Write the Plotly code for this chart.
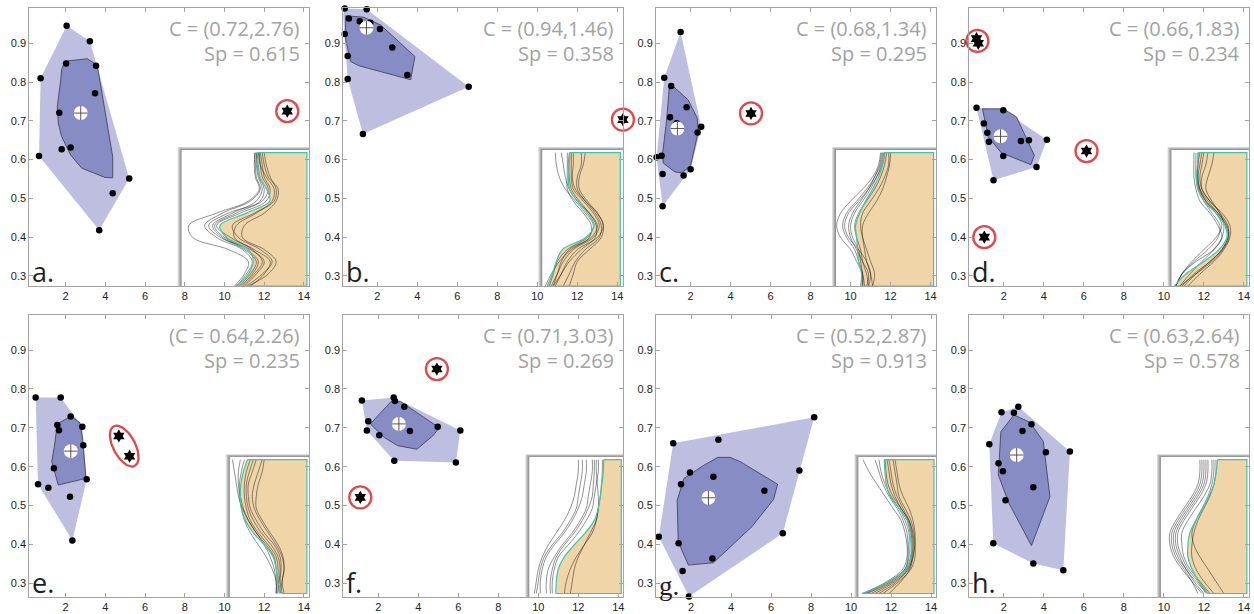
import numpy as np
import plotly.graph_objects as go

# ---------------------------------------------------------------- data
panel_letters = ["a", "b", "c", "d", "e", "f", "g", "h"]

x_ticks = [2, 4, 6, 8, 10, 12, 14]
y_ticks = [0.3, 0.4, 0.5, 0.6, 0.7, 0.8, 0.9]

# summary numbers printed on each panel: C = (y, x) of the centre, Sp = spread
center_y = [0.72, 0.94, 0.68, 0.66, 0.64, 0.71, 0.52, 0.63]
center_x = [2.76, 1.46, 1.34, 1.83, 2.26, 3.03, 2.87, 2.64]
spread = [0.615, 0.358, 0.295, 0.234, 0.235, 0.269, 0.913, 0.578]
c_templates = ["C = ({:.2f},{:.2f})"] * 4 + ["(C = {:.2f},{:.2f})"] + ["C = ({:.2f},{:.2f})"] * 3

# ---- panel a
pts_x_a = [2.05, 3.22, 0.74, 2.02, 3.53, 3.48, 1.68, 1.80, 2.25, 0.66, 5.20, 4.37, 3.69]
pts_y_a = [0.945, 0.905, 0.810, 0.848, 0.842, 0.771, 0.721, 0.627, 0.631, 0.609, 0.551, 0.513, 0.418]
out_x_a = [13.16]
out_y_a = [0.725]
out_g_a = [0]
bag_x_a = [1.80, 1.97, 3.09, 3.59, 4.37, 4.37, 3.98, 2.81, 2.25, 1.80, 1.63, 1.58, 1.75]
bag_y_a = [0.833, 0.854, 0.860, 0.844, 0.608, 0.553, 0.554, 0.578, 0.612, 0.659, 0.694, 0.737, 0.805]

# ---- panel b
pts_x_b = [0.37, 1.47, 0.28, 0.58, 1.12, 1.65, 2.13, 0.37, 2.75, 0.52, 3.50, 0.52, 6.57, 1.28]
pts_y_b = [0.990, 0.988, 0.973, 0.964, 0.957, 0.953, 0.937, 0.924, 0.889, 0.867, 0.818, 0.808, 0.788, 0.666]
out_x_b = [14.28]
out_y_b = [0.703]
out_g_b = [0]
bag_x_b = [0.42, 1.33, 2.17, 3.88, 3.67, 1.08, 0.67, 0.42]
bag_y_b = [0.971, 0.967, 0.947, 0.866, 0.806, 0.842, 0.853, 0.909]

# ---- panel c
pts_x_c = [1.50, 0.68, 1.03, 1.80, 0.97, 1.30, 2.53, 2.35, 0.30, 0.55, 0.60, 2.00, 1.65, 0.60]
pts_y_c = [0.929, 0.811, 0.790, 0.735, 0.709, 0.694, 0.685, 0.670, 0.606, 0.610, 0.563, 0.575, 0.559, 0.480]
out_x_c = [5.02]
out_y_c = [0.719]
out_g_c = [0]
bag_x_c = [0.93, 1.17, 1.88, 2.33, 2.38, 2.00, 1.55, 1.22, 0.63, 0.60, 0.80]
bag_y_c = [0.784, 0.787, 0.754, 0.707, 0.672, 0.584, 0.566, 0.568, 0.591, 0.616, 0.702]

# ---- panel d
pts_x_d = [0.63, 1.00, 1.17, 1.25, 1.97, 1.97, 2.85, 3.25, 4.15, 3.63, 1.48]
pts_y_d = [0.734, 0.693, 0.669, 0.646, 0.727, 0.609, 0.648, 0.650, 0.651, 0.581, 0.547]
out_x_d = [0.63, 0.72, 6.13, 1.02]
out_y_d = [0.912, 0.900, 0.622, 0.400]
out_g_d = [0, 0, 1, 2]
bag_x_d = [0.93, 1.97, 2.63, 3.52, 3.35, 1.88, 1.22]
bag_y_d = [0.731, 0.731, 0.710, 0.611, 0.587, 0.617, 0.658]

# ---- panel e
pts_x_e = [0.49, 1.75, 2.25, 1.58, 1.66, 2.84, 2.89, 1.41, 3.06, 0.61, 1.13, 2.22, 2.34]
pts_y_e = [0.778, 0.778, 0.729, 0.707, 0.694, 0.703, 0.655, 0.596, 0.568, 0.555, 0.546, 0.523, 0.410]
out_x_e = [4.68, 5.22]
out_y_e = [0.679, 0.627]
out_g_e = [0, 0]
bag_x_e = [1.58, 2.27, 2.72, 2.86, 3.02, 1.63, 1.30, 1.43]
bag_y_e = [0.710, 0.730, 0.713, 0.669, 0.570, 0.553, 0.613, 0.651]

# ---- panel f
pts_x_f = [1.18, 2.77, 2.83, 3.30, 1.50, 1.43, 2.05, 3.58, 4.97, 6.10, 2.80, 5.88]
pts_y_f = [0.770, 0.778, 0.769, 0.754, 0.717, 0.693, 0.681, 0.692, 0.703, 0.693, 0.615, 0.611]
out_x_f = [4.93, 1.10]
out_y_f = [0.851, 0.521]
out_g_f = [0, 1]
bag_x_f = [1.60, 2.63, 3.13, 5.05, 4.72, 3.93, 2.97, 2.30]
bag_y_f = [0.710, 0.767, 0.767, 0.700, 0.679, 0.645, 0.654, 0.675]

# ---- panel g
pts_x_g = [1.11, 3.37, 8.16, 1.95, 3.12, 1.50, 5.67, 7.42, 0.39, 1.38, 6.59, 3.07, 1.58, 1.90]
pts_y_g = [0.660, 0.669, 0.727, 0.585, 0.574, 0.555, 0.538, 0.590, 0.420, 0.403, 0.429, 0.364, 0.332, 0.266]
out_x_g = []
out_y_g = []
out_g_g = []
bag_x_g = [1.65, 2.62, 3.34, 3.96, 4.46, 6.33, 6.13, 5.05, 3.12, 1.87, 1.36, 1.31]
bag_y_g = [0.570, 0.603, 0.624, 0.624, 0.613, 0.555, 0.516, 0.446, 0.353, 0.347, 0.407, 0.514]

# ---- panel h
pts_x_h = [2.72, 1.88, 2.50, 3.38, 2.93, 1.27, 4.10, 5.30, 1.73, 1.95, 3.47, 2.08, 1.47, 3.47, 4.97]
pts_y_h = [0.754, 0.740, 0.739, 0.709, 0.692, 0.658, 0.637, 0.639, 0.609, 0.588, 0.547, 0.514, 0.403, 0.351, 0.334]
out_x_h = []
out_y_h = []
out_g_h = []
bag_x_h = [2.50, 3.30, 3.97, 4.30, 3.38, 2.25, 1.72, 1.85]
bag_y_h = [0.733, 0.714, 0.665, 0.523, 0.397, 0.506, 0.579, 0.690]

# ---- inset profiles: x position of each profile at these depth levels
prof_levels = [0.618, 0.587, 0.555, 0.524, 0.493, 0.462, 0.430, 0.399, 0.368, 0.337, 0.305, 0.274]

teal_a = [11.65, 11.70, 11.78, 12.12, 12.28, 11.10, 9.77, 10.10, 11.20, 11.45, 11.20, 10.57]
curves_a = [
    [11.60, 11.60, 11.70, 11.90, 11.60, 10.40, 9.40, 9.90, 11.00, 11.60, 11.30, 10.70],
    [11.80, 11.90, 12.00, 12.30, 12.10, 10.80, 9.60, 10.30, 11.40, 11.90, 11.50, 10.90],
    [11.50, 11.55, 11.60, 11.80, 11.30, 9.90, 9.00, 9.60, 10.90, 11.40, 11.10, 10.60],
    [12.00, 12.10, 12.30, 12.60, 12.50, 11.50, 10.40, 10.70, 11.80, 12.40, 11.90, 11.10],
    [11.70, 11.80, 12.10, 12.50, 12.40, 11.60, 10.60, 10.50, 11.50, 12.30, 12.00, 11.30],
    [11.55, 11.50, 11.55, 11.75, 11.20, 9.60, 8.20, 8.40, 10.20, 11.20, 11.00, 10.50],
    [11.90, 12.00, 12.20, 12.70, 12.60, 12.00, 11.00, 10.90, 12.00, 12.60, 12.20, 11.20],
    [11.60, 11.65, 11.75, 12.00, 11.80, 10.60, 9.50, 10.00, 11.10, 11.70, 11.40, 10.80],
    [11.75, 11.80, 11.90, 12.20, 11.90, 10.20, 9.20, 9.80, 11.30, 12.00, 11.60, 11.00],
]
teal_b = [11.63, 11.60, 11.57, 11.60, 12.00, 12.50, 12.85, 12.42, 11.25, 10.95, 10.75, 10.50]
curves_b = [
    [10.90, 10.95, 11.10, 11.40, 11.90, 12.40, 12.80, 12.50, 11.50, 11.00, 10.80, 10.60],
    [11.70, 11.70, 11.70, 11.80, 12.30, 12.80, 13.10, 12.80, 11.80, 11.30, 11.00, 10.70],
    [11.80, 11.80, 11.75, 11.90, 12.40, 13.00, 13.30, 13.00, 12.00, 11.50, 11.20, 10.90],
    [12.20, 12.20, 12.00, 12.00, 12.40, 12.90, 13.20, 13.10, 12.40, 11.90, 11.60, 11.30],
    [11.50, 11.50, 11.50, 11.50, 11.80, 12.30, 12.70, 12.60, 11.70, 11.10, 10.70, 10.40],
    [11.60, 11.55, 11.60, 11.70, 12.10, 12.60, 12.95, 12.90, 12.20, 11.60, 11.20, 10.80],
    [12.40, 12.30, 12.10, 12.10, 12.50, 13.00, 13.30, 13.20, 12.60, 12.00, 11.80, 11.60],
    [11.20, 11.30, 11.40, 11.60, 12.00, 12.60, 13.00, 12.70, 11.60, 11.20, 11.00, 10.80],
]
teal_c = [11.67, 11.60, 11.40, 11.10, 10.75, 10.45, 10.25, 10.30, 10.35, 10.40, 10.55, 10.50]
curves_c = [
    [11.50, 11.40, 11.10, 10.60, 10.00, 9.50, 9.30, 9.50, 10.00, 10.30, 10.60, 10.70],
    [11.60, 11.50, 11.20, 10.80, 10.30, 9.80, 9.60, 9.80, 10.20, 10.40, 10.60, 10.60],
    [11.80, 11.70, 11.50, 11.20, 10.80, 10.40, 10.20, 10.30, 10.50, 10.60, 10.80, 10.90],
    [11.90, 11.90, 11.70, 11.40, 11.00, 10.60, 10.50, 10.60, 10.80, 11.00, 11.20, 11.10],
    [11.55, 11.45, 11.20, 10.90, 10.50, 10.10, 9.90, 10.00, 10.30, 10.60, 10.90, 10.80],
    [11.70, 11.60, 11.30, 10.90, 10.40, 9.90, 9.70, 9.90, 10.40, 10.80, 11.00, 10.90],
    [12.00, 11.95, 11.80, 11.60, 11.30, 10.90, 10.60, 10.60, 10.70, 10.80, 11.00, 11.10],
    [11.65, 11.55, 11.30, 11.00, 10.60, 10.20, 10.00, 10.10, 10.40, 10.50, 10.60, 10.60],
]
teal_d = [11.72, 11.68, 11.63, 11.70, 12.00, 12.60, 13.05, 13.15, 12.75, 12.00, 11.10, 10.52]
curves_d = [
    [11.50, 11.50, 11.50, 11.60, 11.80, 12.30, 12.70, 12.90, 12.50, 11.60, 10.90, 10.60],
    [11.90, 11.80, 11.70, 11.80, 12.20, 12.70, 13.10, 13.20, 12.90, 12.30, 11.50, 10.90],
    [12.20, 12.10, 11.90, 11.90, 12.30, 12.90, 13.30, 13.30, 13.00, 12.50, 11.80, 11.20],
    [11.60, 11.60, 11.60, 11.70, 12.00, 12.40, 12.80, 12.70, 12.20, 11.50, 10.90, 10.60],
    [12.50, 12.40, 12.20, 12.10, 12.40, 12.80, 13.20, 13.20, 12.90, 12.30, 11.60, 11.00],
    [11.80, 11.70, 11.70, 11.80, 12.10, 12.60, 12.90, 12.60, 12.00, 11.40, 10.90, 10.60],
    [11.70, 11.70, 11.65, 11.75, 12.10, 12.70, 13.15, 13.25, 12.95, 12.40, 11.60, 10.80],
    [12.00, 11.90, 11.80, 11.90, 12.30, 12.80, 13.00, 12.90, 12.50, 11.90, 11.30, 10.80],
]
teal_e = [11.15, 10.95, 10.82, 10.80, 10.85, 11.05, 11.45, 12.00, 12.45, 12.60, 12.68, 12.90]
curves_e = [
    [10.40, 10.50, 10.60, 10.70, 10.90, 11.20, 11.60, 12.00, 12.30, 12.50, 12.60, 12.60],
    [11.30, 11.10, 11.00, 11.00, 11.10, 11.30, 11.70, 12.20, 12.60, 12.70, 12.70, 12.80],
    [11.60, 11.40, 11.20, 11.20, 11.30, 11.60, 12.00, 12.50, 12.80, 12.85, 12.80, 12.90],
    [11.90, 11.70, 11.50, 11.40, 11.50, 11.80, 12.20, 12.60, 12.90, 13.00, 12.90, 13.00],
    [11.00, 10.85, 10.75, 10.75, 10.85, 11.00, 11.30, 11.70, 12.10, 12.40, 12.60, 12.60],
    [11.45, 11.25, 11.10, 11.10, 11.20, 11.45, 11.85, 12.35, 12.70, 12.80, 12.75, 12.70],
    [12.00, 11.90, 11.70, 11.60, 11.60, 11.90, 12.30, 12.70, 12.95, 13.00, 12.90, 12.80],
    [10.80, 10.70, 10.70, 10.80, 10.95, 11.20, 11.60, 12.10, 12.50, 12.60, 12.65, 12.65],
]
teal_f = [13.27, 13.25, 13.18, 13.10, 13.00, 12.80, 12.35, 11.80, 11.30, 11.00, 10.90, 10.88]
curves_f = [
    [12.00, 12.00, 11.90, 11.80, 11.60, 11.30, 10.90, 10.50, 10.20, 10.00, 9.90, 9.80],
    [12.40, 12.40, 12.30, 12.20, 12.00, 11.70, 11.30, 10.80, 10.40, 10.20, 10.10, 10.10],
    [12.70, 12.70, 12.60, 12.50, 12.40, 12.10, 11.70, 11.20, 10.80, 10.50, 10.40, 10.40],
    [13.00, 13.00, 12.90, 12.80, 12.70, 12.40, 12.00, 11.50, 11.00, 10.80, 10.70, 10.70],
    [12.90, 12.90, 12.95, 13.00, 13.00, 12.90, 12.70, 12.30, 11.90, 11.60, 11.40, 11.30],
    [13.20, 13.20, 13.15, 13.10, 13.00, 12.90, 12.60, 12.30, 12.00, 11.80, 11.70, 11.60],
    [12.20, 12.20, 12.10, 12.00, 11.90, 11.60, 11.20, 10.70, 10.30, 10.10, 10.00, 9.90],
    [12.80, 12.80, 12.75, 12.70, 12.50, 12.20, 11.80, 11.30, 10.90, 10.70, 10.60, 10.60],
]
teal_g = [11.66, 11.70, 11.76, 11.95, 12.40, 12.80, 12.95, 13.00, 12.98, 12.75, 11.90, 10.55]
curves_g = [
    [10.60, 10.90, 11.30, 11.70, 12.10, 12.50, 12.70, 12.80, 12.80, 12.60, 11.80, 10.60],
    [11.20, 11.40, 11.60, 11.90, 12.30, 12.60, 12.80, 12.85, 12.85, 12.70, 12.00, 10.80],
    [11.80, 11.90, 12.00, 12.20, 12.50, 12.90, 13.05, 13.10, 13.05, 12.90, 12.20, 11.20],
    [12.10, 12.20, 12.30, 12.40, 12.70, 13.00, 13.15, 13.20, 13.20, 13.00, 12.40, 11.60],
    [11.70, 11.75, 11.85, 12.10, 12.50, 12.85, 13.00, 13.05, 13.00, 12.80, 12.10, 11.00],
    [11.40, 11.50, 11.70, 12.00, 12.40, 12.70, 12.90, 12.90, 12.90, 12.70, 11.90, 10.70],
    [12.20, 12.30, 12.40, 12.60, 12.90, 13.10, 13.20, 13.20, 13.10, 12.95, 12.50, 11.90],
    [11.90, 12.00, 12.10, 12.30, 12.60, 12.90, 13.10, 13.15, 13.10, 12.85, 12.30, 11.40],
]
teal_h = [12.68, 12.62, 12.50, 12.25, 11.95, 11.60, 11.30, 11.20, 11.20, 11.40, 11.75, 12.20]
curves_h = [
    [11.80, 11.80, 11.70, 11.40, 11.00, 10.60, 10.30, 10.30, 10.50, 10.90, 11.40, 11.90],
    [12.00, 12.00, 11.90, 11.60, 11.20, 10.80, 10.50, 10.50, 10.70, 11.10, 11.50, 12.00],
    [12.20, 12.20, 12.10, 11.80, 11.40, 11.00, 10.70, 10.70, 10.90, 11.20, 11.70, 12.10],
    [12.40, 12.40, 12.30, 12.00, 11.60, 11.20, 10.90, 10.90, 11.00, 11.30, 11.80, 12.30],
    [12.50, 12.50, 12.40, 12.20, 11.90, 11.60, 11.40, 11.50, 11.80, 12.20, 12.60, 13.00],
    [11.90, 11.90, 11.80, 11.50, 11.10, 10.70, 10.40, 10.40, 10.60, 11.00, 11.40, 11.70],
    [12.60, 12.60, 12.50, 12.30, 12.00, 11.70, 11.50, 11.40, 11.40, 11.60, 12.00, 12.50],
    [12.10, 12.10, 12.00, 11.70, 11.30, 10.90, 10.60, 10.60, 10.80, 11.10, 11.60, 12.20],
]

# ------------------------------------------------------------ layout / style
W, H = 1254, 614
col_left_px = [29.3, 343.3, 656.0, 969.3]
panel_w_px = 280.0
row_top_px = [8.0, 315.0]
row_bot_px = [286.0, 597.0]
x_ranges = [[0.17, 14.27], [0.30, 14.30], [0.27, 14.27], [0.27, 14.27],
            [0.17, 14.27], [0.25, 14.25], [0.25, 14.25], [0.27, 14.27]]
y_ranges = [[0.274, 0.991]] * 4 + [[0.265, 0.990]] * 4
inset_left = [7.84, 10.25, 9.27, 10.38, 10.27, 9.55, 10.37, 9.85]
inset_top = 0.625
tan_right = 14.15

HULL_COL = "rgb(190,191,224)"
BAG_COL = "rgb(135,140,197)"
TAN_COL = "rgb(240,213,169)"
TEAL_COL = "rgb(60,196,180)"
RED_COL = "rgb(226,72,72)"
FRAME_COL = "#a3a3a3"

panels = [
    (pts_x_a, pts_y_a, out_x_a, out_y_a, out_g_a, bag_x_a, bag_y_a, teal_a, curves_a),
    (pts_x_b, pts_y_b, out_x_b, out_y_b, out_g_b, bag_x_b, bag_y_b, teal_b, curves_b),
    (pts_x_c, pts_y_c, out_x_c, out_y_c, out_g_c, bag_x_c, bag_y_c, teal_c, curves_c),
    (pts_x_d, pts_y_d, out_x_d, out_y_d, out_g_d, bag_x_d, bag_y_d, teal_d, curves_d),
    (pts_x_e, pts_y_e, out_x_e, out_y_e, out_g_e, bag_x_e, bag_y_e, teal_e, curves_e),
    (pts_x_f, pts_y_f, out_x_f, out_y_f, out_g_f, bag_x_f, bag_y_f, teal_f, curves_f),
    (pts_x_g, pts_y_g, out_x_g, out_y_g, out_g_g, bag_x_g, bag_y_g, teal_g, curves_g),
    (pts_x_h, pts_y_h, out_x_h, out_y_h, out_g_h, bag_x_h, bag_y_h, teal_h, curves_h),
]


def convex_hull(xs, ys):
    pts = sorted(set(zip(xs, ys)))
    if len(pts) < 3:
        return pts

    def cross(o, a, b):
        return (a[0] - o[0]) * (b[1] - o[1]) - (a[1] - o[1]) * (b[0] - o[0])

    lower = []
    for p in pts:
        while len(lower) >= 2 and cross(lower[-2], lower[-1], p) <= 0:
            lower.pop()
        lower.append(p)
    upper = []
    for p in reversed(pts):
        while len(upper) >= 2 and cross(upper[-2], upper[-1], p) <= 0:
            upper.pop()
        upper.append(p)
    return lower[:-1] + upper[:-1]


fig = go.Figure()
layout_axes = {}
shapes = []
annotations = []
RING_R = 11.0  # px radius of the red outlier rings

for i, letter in enumerate(panel_letters):
    (px_, py_, ox, oy, og, bx, by, teal, curves) = panels[i]
    n = i + 1
    xa = "x" if n == 1 else f"x{n}"
    ya = "y" if n == 1 else f"y{n}"
    xkey = "xaxis" if n == 1 else f"xaxis{n}"
    ykey = "yaxis" if n == 1 else f"yaxis{n}"
    row, col = divmod(i, 4)
    left = col_left_px[col]
    right = left + panel_w_px
    top = row_top_px[row]
    bot = row_bot_px[row]
    xr = x_ranges[i]
    yr = y_ranges[i]
    sx = panel_w_px / (xr[1] - xr[0])      # px per x unit
    sy = (bot - top) / (yr[1] - yr[0])     # px per y unit

    common = dict(showline=True, linecolor=FRAME_COL, linewidth=1, mirror="allticks",
                  ticks="inside", ticklen=4, tickcolor=FRAME_COL, tickwidth=1,
                  showgrid=False, zeroline=False, fixedrange=True,
                  tickfont=dict(family="Liberation Sans, Arial, sans-serif", size=11, color="#222"))
    layout_axes[xkey] = dict(common, domain=[left / W, right / W], range=xr,
                             tickvals=x_ticks, anchor=ya)
    layout_axes[ykey] = dict(common, domain=[1 - bot / H, 1 - top / H], range=yr,
                             tickvals=y_ticks, tickformat=".1f", anchor=xa)

    # ---- inset background with a soft shadow on its upper-left side
    L = inset_left[i]
    for k in range(4, 0, -1):
        shapes.append(dict(type="rect", xref=xa, yref=ya, layer="below",
                           x0=L - k / sx, x1=xr[1], y0=yr[0], y1=inset_top + 0.7 * k / sy,
                           fillcolor="rgba(0,0,0,0.13)", line=dict(width=0)))
    shapes.append(dict(type="rect", xref=xa, yref=ya, layer="below",
                       x0=L, x1=xr[1], y0=yr[0], y1=inset_top,
                       fillcolor="white", line=dict(width=0)))

    # ---- outer hull (fence) of the non-outlier points
    hull = convex_hull(px_, py_)
    hx = [p[0] for p in hull] + [hull[0][0]]
    hy = [p[1] for p in hull] + [hull[0][1]]
    fig.add_trace(go.Scatter(x=hx, y=hy, xaxis=xa, yaxis=ya, mode="lines", fill="toself",
                             fillcolor=HULL_COL, line=dict(width=0), hoverinfo="skip",
                             showlegend=False))
    # ---- bag
    fig.add_trace(go.Scatter(x=bx + [bx[0]], y=by + [by[0]], xaxis=xa, yaxis=ya, mode="lines",
                             fill="toself", fillcolor=BAG_COL,
                             line=dict(color="#3a3a4a", width=0.8), hoverinfo="skip",
                             showlegend=False))
    # ---- points
    fig.add_trace(go.Scatter(x=px_, y=py_, xaxis=xa, yaxis=ya, mode="markers",
                             marker=dict(color="black", size=6.5), cliponaxis=False,
                             showlegend=False))
    # ---- outliers with red rings
    if ox:
        fig.add_trace(go.Scatter(x=ox, y=oy, xaxis=xa, yaxis=ya, mode="markers",
                                 marker=dict(color="black", size=10, symbol="hexagram"),
                                 cliponaxis=False, showlegend=False))
        ring_x, ring_y = [], []
        for g in sorted(set(og)):
            gx = np.array([ox[j] for j in range(len(ox)) if og[j] == g])
            gy = np.array([oy[j] for j in range(len(oy)) if og[j] == g])
            ppx = (gx - xr[0]) * sx
            ppy = (gy - yr[0]) * sy
            half = 0.5 * np.hypot(ppx[-1] - ppx[0], ppy[-1] - ppy[0])
            if half < 8:
                ring_x.append(float(gx.mean()))
                ring_y.append(float(gy.mean()))
                continue
            cxp, cyp = ppx.mean(), ppy.mean()
            ang = np.arctan2(ppy[-1] - ppy[0], ppx[-1] - ppx[0])
            t = np.linspace(0, 2 * np.pi, 73)
            ea, eb = half + RING_R, RING_R
            ex = cxp + ea * np.cos(t) * np.cos(ang) - eb * np.sin(t) * np.sin(ang)
            ey = cyp + ea * np.cos(t) * np.sin(ang) + eb * np.sin(t) * np.cos(ang)
            fig.add_trace(go.Scatter(x=ex / sx + xr[0], y=ey / sy + yr[0], xaxis=xa, yaxis=ya,
                                     mode="lines", line=dict(color=RED_COL, width=2.3),
                                     hoverinfo="skip", showlegend=False))
        if ring_x:
            fig.add_trace(go.Scatter(x=ring_x, y=ring_y, xaxis=xa, yaxis=ya, mode="markers",
                                     marker=dict(symbol="circle-open", size=2 * RING_R,
                                                 color=RED_COL, line=dict(color=RED_COL, width=2.3)),
                                     cliponaxis=False, hoverinfo="skip", showlegend=False))
    # ---- centre marker
    fig.add_trace(go.Scatter(x=[center_x[i]], y=[center_y[i]], xaxis=xa, yaxis=ya,
                             mode="markers", marker=dict(color="white", size=14),
                             showlegend=False))
    fig.add_trace(go.Scatter(x=[center_x[i]], y=[center_y[i]], xaxis=xa, yaxis=ya,
                             mode="markers",
                             marker=dict(symbol="cross-thin-open", size=10, color="#444",
                                         line=dict(color="#444", width=0.9)),
                             showlegend=False))

    # ---- inset: tan region bounded by the reference profile
    bottom_lv = prof_levels[-1]
    fig.add_trace(go.Scatter(x=[tan_right] * len(prof_levels), y=prof_levels, xaxis=xa, yaxis=ya,
                             mode="lines", line=dict(width=0), hoverinfo="skip",
                             showlegend=False))
    fig.add_trace(go.Scatter(x=teal, y=prof_levels, xaxis=xa, yaxis=ya, mode="lines",
                             line=dict(width=0, shape="spline"), fill="tonextx",
                             fillcolor=TAN_COL, hoverinfo="skip", showlegend=False))
    cx_all, cy_all = [], []
    for c in curves:
        cx_all += list(c) + [None]
        cy_all += list(prof_levels) + [None]
    fig.add_trace(go.Scatter(x=cx_all, y=cy_all, xaxis=xa, yaxis=ya, mode="lines",
                             line=dict(color="rgba(0,0,0,0.62)", width=0.7, shape="spline"),
                             hoverinfo="skip", showlegend=False))
    fig.add_trace(go.Scatter(x=teal, y=prof_levels, xaxis=xa, yaxis=ya, mode="lines",
                             line=dict(color=TEAL_COL, width=1.2, shape="spline"),
                             hoverinfo="skip", showlegend=False))
    fig.add_trace(go.Scatter(x=[teal[0], tan_right, tan_right, teal[-1]],
                             y=[prof_levels[0], prof_levels[0], bottom_lv, bottom_lv],
                             xaxis=xa, yaxis=ya, mode="lines",
                             line=dict(color=TEAL_COL, width=1.2),
                             hoverinfo="skip", showlegend=False))

    # ---- texts
    annotations.append(dict(xref=f"{xa} domain", yref=f"{ya} domain", x=1, y=1,
                            xanchor="right", yanchor="middle", xshift=-7, yshift=-20,
                            text=c_templates[i].format(center_y[i], center_x[i]), showarrow=False,
                            font=dict(family="Open Sans, Noto Sans, sans-serif", size=20,
                                      color="#a2a2a2")))
    annotations.append(dict(xref=f"{xa} domain", yref=f"{ya} domain", x=1, y=1,
                            xanchor="right", yanchor="middle", xshift=-7, yshift=-45,
                            text=f"Sp = {spread[i]:.3f}", showarrow=False,
                            font=dict(family="Open Sans, Noto Sans, sans-serif", size=20,
                                      color="#a2a2a2")))
    lab_font = "Liberation Serif, serif" if letter == "g" else "Open Sans, Noto Sans, sans-serif"
    annotations.append(dict(xref=f"{xa} domain", yref=f"{ya} domain", x=0, y=0,
                            xanchor="left", yanchor="bottom", xshift=1, yshift=-6,
                            text=f"{letter}.", showarrow=False,
                            font=dict(family=lab_font, size=27, color="#1e1e1e")))

fig.update_layout(width=W, height=H, margin=dict(l=0, r=0, t=0, b=0),
                  paper_bgcolor="white", plot_bgcolor="white", showlegend=False,
                  shapes=shapes, annotations=annotations, **layout_axes)

fig.write_html("out.html", config={"displayModeBar": False},
               post_script="document.body.style.margin='0';document.body.style.overflow='hidden';")
